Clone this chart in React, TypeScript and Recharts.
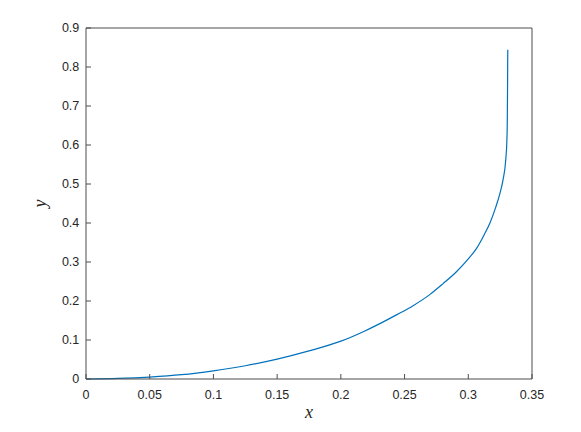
import { LineChart, Line, XAxis, YAxis, Label } from 'recharts';

// curve samples
const xValues = [0, 0.025, 0.05, 0.075, 0.1, 0.125, 0.15, 0.175, 0.2, 0.218, 0.2306, 0.244, 0.2567, 0.27, 0.28, 0.2907, 0.3, 0.3065, 0.3125, 0.317, 0.3215, 0.325, 0.3273, 0.3294, 0.3303, 0.3306, 0.3307, 0.3308, 0.3309, 0.331];
const yValues = [0, 0.0015, 0.005, 0.011, 0.021, 0.034, 0.051, 0.072, 0.097, 0.122, 0.142, 0.165, 0.188, 0.217, 0.244, 0.275, 0.308, 0.335, 0.37, 0.4, 0.44, 0.478, 0.511, 0.562, 0.613, 0.656, 0.7, 0.741, 0.8, 0.844];

const xTicks = [0, 0.05, 0.1, 0.15, 0.2, 0.25, 0.3, 0.35];
const xTickLabels = ['0', '0.05', '0.1', '0.15', '0.2', '0.25', '0.3', '0.35'];
const yTicks = [0, 0.1, 0.2, 0.3, 0.4, 0.5, 0.6, 0.7, 0.8, 0.9];
const yTickLabels = ['0', '0.1', '0.2', '0.3', '0.4', '0.5', '0.6', '0.7', '0.8', '0.9'];

const data = xValues.map((x, i) => ({ x, y: yValues[i] }));

const AXIS = '#4d4d4d';
const TEXT = '#262626';
const tickFont = { fontFamily: '"Liberation Sans", Arial, Helvetica, sans-serif', fontSize: 12.5, fill: TEXT };
const SERIF = "'Liberation Serif', 'Times New Roman', serif";

const xLabel = (props: any) => {
  const vb = props.viewBox;
  return (
    <text x={vb.x + vb.width / 2} y={vb.y + 39} textAnchor="middle" fontFamily={SERIF} fontStyle="italic" fontSize={18} fill={TEXT}>
      x
    </text>
  );
};

const yLabel = (props: any) => {
  const vb = props.viewBox;
  const cx = vb.x + 20;
  const cy = vb.y + vb.height / 2;
  return (
    <text x={cx} y={cy} textAnchor="middle" transform={`rotate(-90, ${cx}, ${cy})`} fontFamily={SERIF} fontStyle="italic" fontSize={18} fill={TEXT}>
      y
    </text>
  );
};

export default function App() {
  return (
    <div style={{ position: 'absolute', left: 0, top: 0, width: 581, height: 432, background: '#fff' }}>
      <LineChart width={581} height={432} data={data} margin={{ top: 27, right: 48, left: 26, bottom: 23 }}>
        <XAxis
          dataKey="x"
          type="number"
          domain={[0, 0.35]}
          ticks={xTicks}
          tickFormatter={(v: number) => xTickLabels[xTicks.indexOf(v)] ?? String(v)}
          height={30}
          tickSize={-5}
          tickMargin={15.7}
          stroke={AXIS}
          tick={tickFont}
          tickLine={{ stroke: AXIS }}
          axisLine={{ stroke: AXIS }}
          label={<Label content={xLabel} />}
        />
        <XAxis
          xAxisId="top"
          orientation="top"
          dataKey="x"
          type="number"
          domain={[0, 0.35]}
          ticks={xTicks}
          height={1}
          tickSize={-5}
          tick={false}
          stroke={AXIS}
          tickLine={{ stroke: AXIS }}
          axisLine={{ stroke: AXIS }}
        />
        <YAxis
          type="number"
          domain={[0, 0.9]}
          ticks={yTicks}
          tickFormatter={(v: number) => yTickLabels[yTicks.indexOf(v)] ?? String(v)}
          width={60}
          tickSize={-5}
          tickMargin={11.7}
          stroke={AXIS}
          tick={tickFont}
          tickLine={{ stroke: AXIS }}
          axisLine={{ stroke: AXIS }}
          label={<Label content={yLabel} />}
        />
        <YAxis
          yAxisId="right"
          orientation="right"
          type="number"
          domain={[0, 0.9]}
          ticks={yTicks}
          width={1}
          tickSize={-5}
          tick={false}
          stroke={AXIS}
          tickLine={{ stroke: AXIS }}
          axisLine={{ stroke: AXIS }}
        />
        {/* invisible series so the top and right frame axes are drawn */}
        <Line
          xAxisId="top"
          yAxisId="right"
          type="linear"
          dataKey="y"
          stroke="none"
          dot={false}
          activeDot={false}
          isAnimationActive={false}
        />
        <Line
          type="monotone"
          dataKey="y"
          stroke="#0072BD"
          strokeWidth={1.2}
          dot={false}
          isAnimationActive={false}
        />
      </LineChart>
    </div>
  );
}
